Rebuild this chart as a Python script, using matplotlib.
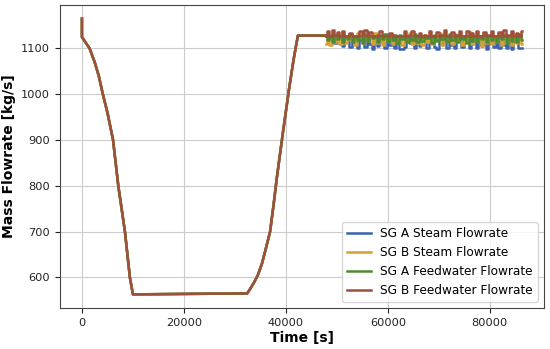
import matplotlib
matplotlib.use("Agg")
import matplotlib.pyplot as plt
import numpy as np

# ramp-down / hold / ramp-up part (shared by all four flowrates)
t_ramp = [0, 0, 600, 1500, 2500, 3300, 4100, 5000, 6100, 7130, 8430, 9400, 10000,
          20000, 32400, 33000, 33800, 34500, 35300, 36000, 36900, 37600, 38240,
          39400, 40600, 41500, 42350, 47800]
flow_ramp = [1165, 1125, 1115, 1100, 1070, 1040, 1000, 960, 900, 800, 700, 600, 563,
             564, 565, 575, 590, 605, 630, 660, 700, 760, 819,
             915, 1010, 1075, 1128, 1128]

# full power with control noise
t_noise = np.linspace(47800, 86300, 80)
sg_a_steam = [1128, 1126, 1120, 1128, 1112, 1127, 1128, 1106, 1125, 1128,
              1103, 1122, 1128, 1101, 1118, 1128, 1104, 1128, 1110, 1099,
              1127, 1105, 1128, 1115, 1100, 1128, 1108, 1126, 1102, 1128,
              1099, 1098, 1104, 1128, 1112, 1127, 1100, 1128, 1106, 1125,
              1128, 1101, 1116, 1128, 1103, 1099, 1128, 1110, 1126, 1102,
              1128, 1107, 1100, 1128, 1118, 1104, 1128, 1127, 1101, 1109,
              1128, 1100, 1123, 1106, 1128, 1099, 1112, 1128, 1103, 1127,
              1100, 1128, 1108, 1101, 1128, 1099, 1115, 1128, 1102, 1100]
sg_b_steam = [1110, 1128, 1108, 1132, 1115, 1128, 1109, 1135, 1112, 1128,
              1118, 1128, 1107, 1133, 1128, 1111, 1128, 1116, 1128, 1109,
              1134, 1112, 1128, 1108, 1128, 1119, 1131, 1110, 1128, 1114,
              1128, 1107, 1128, 1117, 1133, 1110, 1128, 1112, 1128, 1108,
              1130, 1115, 1128, 1109, 1128, 1118, 1134, 1107, 1128, 1113,
              1128, 1110, 1132, 1116, 1128, 1108, 1128, 1114, 1135, 1109,
              1128, 1117, 1128, 1106, 1131, 1112, 1128, 1109, 1128, 1115,
              1133, 1108, 1128, 1113, 1128, 1107, 1132, 1111, 1128, 1110]
sg_a_feed = [1128, 1118, 1128, 1115, 1130, 1120, 1128, 1113, 1128, 1121,
             1131, 1114, 1128, 1119, 1128, 1112, 1130, 1117, 1128, 1122,
             1128, 1113, 1128, 1120, 1132, 1115, 1128, 1118, 1128, 1112,
             1129, 1121, 1128, 1114, 1128, 1119, 1131, 1113, 1128, 1117,
             1128, 1122, 1128, 1112, 1130, 1116, 1128, 1120, 1128, 1113,
             1131, 1118, 1128, 1114, 1128, 1121, 1128, 1112, 1130, 1117,
             1128, 1115, 1128, 1120, 1132, 1113, 1128, 1118, 1128, 1114,
             1128, 1121, 1130, 1112, 1128, 1117, 1128, 1115, 1131, 1119]
sg_b_feed = [1128, 1138, 1127, 1140, 1129, 1136, 1128, 1139, 1127, 1128,
             1134, 1128, 1127, 1128, 1137, 1129, 1140, 1128, 1135, 1127,
             1128, 1129, 1138, 1128, 1127, 1128, 1133, 1128, 1129, 1128,
             1127, 1128, 1137, 1128, 1129, 1139, 1128, 1127, 1134, 1128,
             1129, 1128, 1138, 1127, 1128, 1136, 1128, 1129, 1140, 1128,
             1127, 1135, 1128, 1129, 1138, 1128, 1127, 1137, 1128, 1133,
             1128, 1139, 1127, 1128, 1136, 1128, 1129, 1138, 1128, 1127,
             1135, 1128, 1140, 1128, 1129, 1137, 1128, 1134, 1128, 1138]

labels = ["SG A Steam Flowrate", "SG B Steam Flowrate",
          "SG A Feedwater Flowrate", "SG B Feedwater Flowrate"]
colors = ["#3b62b0", "#d6a030", "#4f8a30", "#a0503a"]

fig, ax = plt.subplots(figsize=(5.5, 3.49), dpi=100)
for series, lab, col in zip([sg_a_steam, sg_b_steam, sg_a_feed, sg_b_feed], labels, colors):
    ax.plot(t_ramp, flow_ramp, color=col, lw=1.8, label=lab)
    ax.plot(t_noise, series, color=col, lw=1.8, drawstyle="steps-mid")

ax.set_xticks([0, 20000, 40000, 60000, 80000])
ax.set_yticks([600, 700, 800, 900, 1000, 1100])
ax.tick_params(labelsize=8.2, colors="#222222")
ax.grid(True, color="#cccccc", lw=0.8)
for s in ax.spines.values():
    s.set_color("#444444")

ax.set_xlabel("Time [s]", fontsize=10, fontweight="bold", labelpad=2)
ax.set_ylabel("Mass Flowrate [kg/s]", fontsize=10, fontweight="bold", labelpad=4)
ax.legend(loc="lower right", fontsize=8.7)

fig.subplots_adjust(left=0.109, right=0.989, top=0.986, bottom=0.117)
fig.savefig("out.png")
